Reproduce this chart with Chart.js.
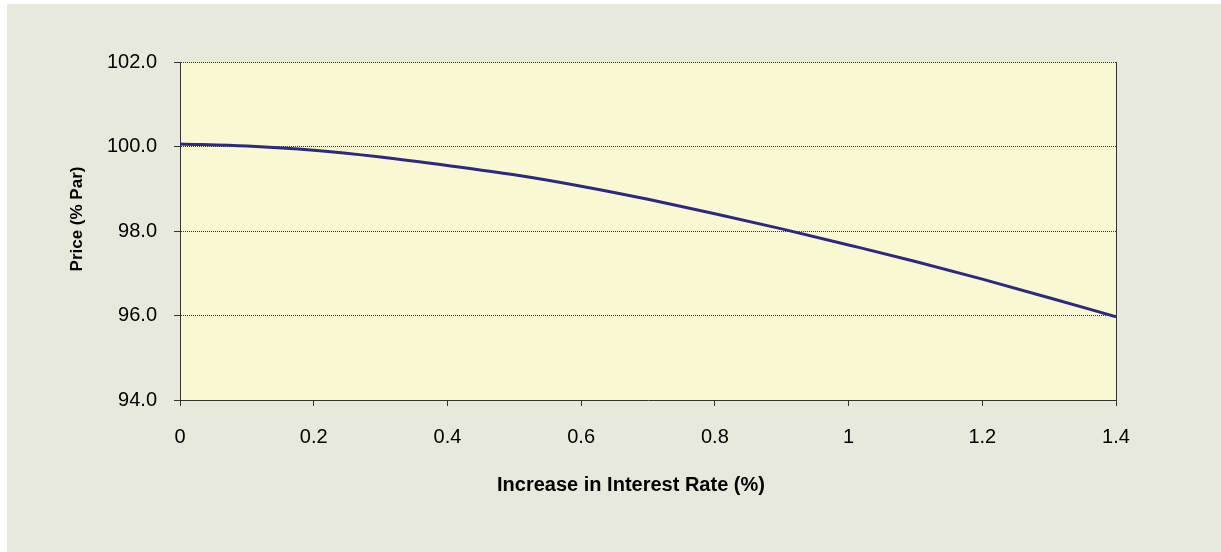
<!DOCTYPE html>
<html>
<head>
<meta charset="utf-8">
<script src="https://cdn.jsdelivr.net/npm/chart.js@4/dist/chart.umd.min.js"></script>
<style>
  html, body { margin: 0; padding: 0; background: #ffffff; }
  canvas { display: block; }
</style>
</head>
<body>
<canvas id="c" width="1221" height="552"></canvas>
<script>
// ---- data ----
const rateIncrease = [0, 0.1, 0.2, 0.3, 0.4, 0.5, 0.6, 0.7, 0.8, 0.9, 1.0, 1.1, 1.2, 1.3, 1.4];
const price = [100.06, 100.01, 99.91, 99.75, 99.55, 99.33, 99.06, 98.75, 98.41, 98.05, 97.67, 97.28, 96.86, 96.42, 95.97];
const xTickLabels = ['0', '0.2', '0.4', '0.6', '0.8', '1', '1.2', '1.4'];
const yTickLabels = ['94.0', '96.0', '98.0', '100.0', '102.0'];
const xTitle = 'Increase in Interest Rate (%)';
const yTitle = 'Price (% Par)';

const FONT = "'Liberation Sans', Arial, sans-serif";
const points = rateIncrease.map((x, i) => ({ x: x, y: price[i] }));

const framePlugin = {
  id: 'frame',
  beforeDraw(chart) {
    const ctx = chart.ctx;
    const a = chart.chartArea;
    ctx.save();
    ctx.fillStyle = '#ffffff';
    ctx.fillRect(0, 0, chart.width, chart.height);
    ctx.fillStyle = '#E6E9DC';
    ctx.fillRect(7, 4, chart.width - 7, chart.height - 4);
    ctx.fillStyle = '#FAF8D2';
    ctx.fillRect(a.left, a.top, a.right - a.left, a.bottom - a.top);
    ctx.restore();
  },
  afterDatasetsDraw(chart) {
    const ctx = chart.ctx;
    const a = chart.chartArea;
    ctx.save();
    ctx.strokeStyle = '#333333';
    ctx.lineWidth = 1;
    ctx.beginPath();
    ctx.moveTo(Math.round(a.right) + 0.5, a.top);
    ctx.lineTo(Math.round(a.right) + 0.5, a.bottom);
    ctx.stroke();
    ctx.restore();
  },
  afterDraw(chart) {
    // axis titles (placed like the original, slightly off the plot centre)
    const ctx = chart.ctx;
    const a = chart.chartArea;
    ctx.save();
    ctx.fillStyle = '#000000';
    ctx.textAlign = 'center';
    ctx.textBaseline = 'middle';
    ctx.font = "bold 20px " + FONT;
    ctx.fillText(xTitle, (a.left + a.right) / 2 - 17, a.bottom + 85);
    ctx.translate(77, (a.top + a.bottom) / 2 - 12);
    ctx.rotate(-Math.PI / 2);
    ctx.font = "bold 17px " + FONT;
    ctx.fillText(yTitle, 0, 0);
    ctx.restore();
  }
};

new Chart(document.getElementById('c'), {
  type: 'scatter',
  data: {
    datasets: [{
      data: points,
      showLine: true,
      borderColor: '#2B2A7E',
      borderWidth: 3,
      pointRadius: 0,
      cubicInterpolationMode: 'monotone',
      fill: false
    }]
  },
  options: {
    responsive: false,
    animation: false,
    devicePixelRatio: 1,
    layout: { padding: { left: 0, top: 62, right: 105, bottom: 0 } },
    plugins: { legend: { display: false }, tooltip: { enabled: false } },
    scales: {
      x: {
        type: 'linear',
        min: 0, max: 1.4,
        afterBuildTicks(scale) {
          scale.ticks = xTickLabels.map(t => ({ value: parseFloat(t) }));
        },
        ticks: {
          callback: (v) => xTickLabels.find(t => Math.abs(parseFloat(t) - v) < 1e-9) || '',
          color: '#000000',
          font: { family: FONT, size: 20 },
          padding: 19,
          maxRotation: 0, autoSkip: false
        },
        grid: { display: true, drawOnChartArea: false, drawTicks: true, tickLength: 6, tickColor: '#333333', color: '#333333' },
        border: { display: true, color: '#333333', width: 1 },
        title: { display: false },
        afterFit(scale) { scale.height = 152; }
      },
      y: {
        type: 'linear',
        min: 94, max: 102,
        afterBuildTicks(scale) {
          scale.ticks = yTickLabels.map(t => ({ value: parseFloat(t) }));
        },
        ticks: {
          callback: (v) => yTickLabels.find(t => Math.abs(parseFloat(t) - v) < 1e-9) || '',
          color: '#000000',
          font: { family: FONT, size: 20 },
          padding: 17
        },
        grid: { display: true, drawOnChartArea: true, drawTicks: true, tickLength: 6, tickColor: '#333333', tickBorderDash: [], color: '#333333', lineWidth: 1 },
        border: { display: true, color: '#333333', width: 1, dash: [1, 1] },
        title: { display: false },
        afterFit(scale) { scale.width = 180; }
      }
    }
  },
  plugins: [framePlugin]
});
</script>
</body>
</html>
